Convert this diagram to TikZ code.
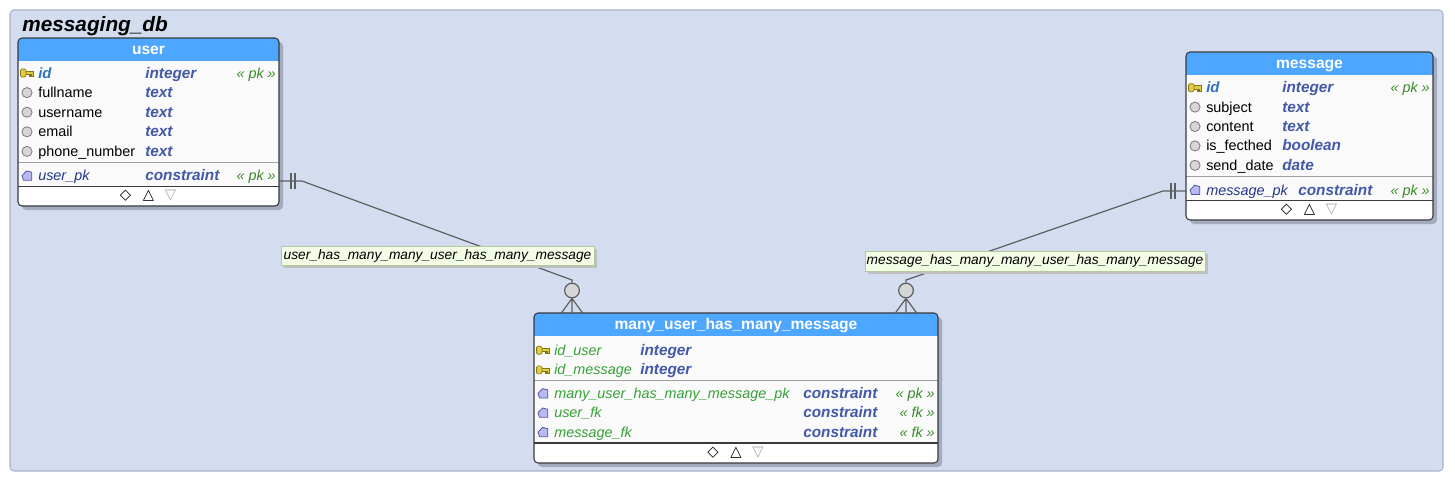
\documentclass[tikz,border=0pt]{standalone}
\usepackage{fontspec}
\setmainfont{Liberation Sans}
\newfontfamily\symfont{DejaVu Sans}
\usetikzlibrary{positioning,fit,shadows}

\definecolor{dbback}{HTML}{D4DCF0}
\definecolor{dbframe}{HTML}{A7B3CD}
\definecolor{tabhead}{HTML}{4DA6FF}
\definecolor{tabbody}{HTML}{FAFAFA}
\definecolor{tabshade}{HTML}{A3ABBE}
\definecolor{tabedge}{HTML}{3A3A3A}
\definecolor{sepgray}{HTML}{A0A0A0}
\definecolor{typeblue}{HTML}{4258A8}
\definecolor{idblue}{HTML}{2F72BE}
\definecolor{consblue}{HTML}{22368A}
\definecolor{markgreen}{HTML}{3A8A2A}
\definecolor{linkgreen}{HTML}{35A035}
\definecolor{keyfill}{HTML}{E0CE42}
\definecolor{keyedge}{HTML}{857418}
\definecolor{ballfill}{HTML}{D6D6D6}
\definecolor{balledge}{HTML}{7A7A7A}
\definecolor{consfill}{HTML}{B9B9F2}
\definecolor{consedge}{HTML}{5555A5}
\definecolor{relgray}{HTML}{5E5E5E}
\definecolor{labelfill}{HTML}{F3FDE6}
\definecolor{labeledge}{HTML}{B6C99E}

\tikzset{
  rowtext/.style={inner sep=0pt, anchor=base west, font=\fontsize{10.8}{13}\selectfont},
  idtext/.style={rowtext, font=\fontsize{11.2}{13}\selectfont\bfseries\itshape, text=idblue},
  typetext/.style={rowtext, font=\fontsize{11.5}{13}\selectfont\bfseries\itshape, text=typeblue},
  constext/.style={rowtext, font=\fontsize{10.8}{13}\selectfont\itshape, text=consblue},
  linktext/.style={rowtext, font=\fontsize{10.8}{13}\selectfont\itshape, text=linkgreen},
  marktext/.style={inner sep=0pt, anchor=base east, font=\fontsize{10.8}{13}\selectfont\itshape, text=markgreen},
  headtext/.style={inner sep=0pt, anchor=base, text=white, font=\fontsize{11.7}{13}\selectfont\bfseries},
  foottext/.style={inner sep=0pt, anchor=base, font=\symfont\fontsize{11}{12}\selectfont},
  tabframe/.style={draw=tabedge, line width=0.8pt, rounded corners=3pt, inner sep=0pt},
  relline/.style={draw=relgray, line width=0.9pt},
  crowball/.style={circle, draw=relgray, fill=ballfill, line width=0.9pt, minimum size=11pt, inner sep=0pt},
  rellabel/.style={draw=labeledge, fill=labelfill, inner sep=0pt, font=\fontsize{10.3}{12}\selectfont\itshape,
    drop shadow={shadow xshift=2pt, shadow yshift=-2pt, fill=black!25, opacity=1}},
  pkkey/.pic={
    \filldraw[fill=keyfill, draw=keyedge, line width=0.5pt] (-1.5,-2) -- (6,-2) -- (6,3.5) -- (4.5,3.5) -- (4.5,1.2) -- (3.5,1.2) -- (3.5,3.5) -- (2,3.5) -- (2,1.2) -- (-1.5,1.2) -- cycle;
    \filldraw[fill=keyfill, draw=keyedge, line width=0.5pt, rounded corners=1pt] (-6.5,-4) rectangle (-1,4);
  },
  colball/.pic={\filldraw[fill=ballfill, draw=balledge, line width=0.6pt] (0,0) circle (3.8pt);},
  consicon/.pic={\filldraw[fill=consfill, draw=consedge, line width=0.6pt, line join=round] (-5,0) -- (-0.5,-4.8) -- (4.8,-3.5) -- (4.8,4.5) -- (-3.5,4.5) -- cycle;}
}

\begin{document}
\begin{tikzpicture}[x=0.75pt,y=-0.75pt]
\fill[white] (0,0) rectangle (1455,483);
\useasboundingbox (0,0) rectangle (1455,483);
\draw[draw=dbframe, fill=dbback, line width=0.8pt, rounded corners=3pt] (10,10) rectangle (1443,471);
\node[anchor=base west, inner sep=0pt, font=\fontsize{15.6}{18}\selectfont\bfseries\itshape] (dbname) at (22,31) {messaging\_db};

% user
\fill[tabshade, rounded corners=3pt] (22,42) rectangle (283,210);
\fill[tabhead, rounded corners=3pt] (18,38) rectangle (279,206);
\fill[tabbody] (18,61) rectangle (279,190);
\fill[white, rounded corners=3pt] (18,187) rectangle (279,206);
\draw[sepgray] (18,162.7) -- (279,162.7);
\draw[tabedge, line width=0.8pt] (18,186.7) -- (279,186.7);
\node[tabframe, fit={(18,38) (279,206)}] (user) {};
\node[headtext] (userhead) at (148.5,54) {user};
\pic at (27,73) {pkkey};
\node[idtext] (user-0) at (38,78) {id};
\node[typetext] (usertype-0) at (145,78) {integer};
\node[marktext] (usermark-0) at (276,78) {« pk »};
\foreach \n/\t [count=\i] in {fullname/text, username/text, email/text, phone\_number/text} {
  \pic at (27,{73+19.6*\i}) {colball};
  \node[rowtext] (user-\i) at (38,{78+19.6*\i}) {\n};
  \node[typetext] (usertype-\i) at (145,{78+19.6*\i}) {\t};
}
\pic at (27,175.7) {consicon};
\node[constext] (userpk) at (38,180.7) {user\_pk};
\node[typetext] (userpktype) at (145,180.7) {constraint};
\node[marktext] (userpkmark) at (276,180.7) {« pk »};
\node[foottext] (userfoot-1) at (125.5,199.5) {◇};
\node[foottext] (userfoot-2) at (148.5,199.5) {△};
\node[foottext, text=gray!70] (userfoot-3) at (170.5,199.5) {▽};

% message
\fill[tabshade, rounded corners=3pt] (1190,56) rectangle (1437,224);
\fill[tabhead, rounded corners=3pt] (1186,52) rectangle (1433,220);
\fill[tabbody] (1186,75) rectangle (1433,204);
\fill[white, rounded corners=3pt] (1186,201) rectangle (1433,220);
\draw[sepgray] (1186,176.7) -- (1433,176.7);
\draw[tabedge, line width=0.8pt] (1186,200.3) -- (1433,200.3);
\node[tabframe, fit={(1186,52) (1433,220)}] (message) {};
\node[headtext] (messagehead) at (1309.5,68) {message};
\pic at (1195,87.7) {pkkey};
\node[idtext] (message-0) at (1206,92.7) {id};
\node[typetext] (messagetype-0) at (1282,92.7) {integer};
\node[marktext] (messagemark-0) at (1430,92.7) {« pk »};
\foreach \n/\t [count=\i] in {subject/text, content/text, is\_fecthed/boolean, send\_date/date} {
  \pic at (1195,{87.7+19.4*\i}) {colball};
  \node[rowtext] (message-\i) at (1206,{92.7+19.4*\i}) {\n};
  \node[typetext] (messagetype-\i) at (1282,{92.7+19.4*\i}) {\t};
}
\pic at (1195,190) {consicon};
\node[constext] (messagepk) at (1206,195) {message\_pk};
\node[typetext] (messagepktype) at (1298,195) {constraint};
\node[marktext] (messagepkmark) at (1430,195) {« pk »};
\node[foottext] (messagefoot-1) at (1286.5,213.5) {◇};
\node[foottext] (messagefoot-2) at (1309.5,213.5) {△};
\node[foottext, text=gray!70] (messagefoot-3) at (1331.5,213.5) {▽};

% many_user_has_many_message
\fill[tabshade, rounded corners=3pt] (538,317) rectangle (942,467);
\fill[tabhead, rounded corners=3pt] (534,313) rectangle (938,463);
\fill[tabbody] (534,336) rectangle (938,447);
\fill[white, rounded corners=3pt] (534,444) rectangle (938,463);
\draw[sepgray] (534,380.5) -- (938,380.5);
\draw[tabedge, line width=0.8pt] (534,443) -- (938,443);
\node[tabframe, fit={(534,313) (938,463)}] (link) {};
\node[headtext] (linkhead) at (736,329.5) {many\_user\_has\_many\_message};
\foreach \n [count=\i] in {id\_user, id\_message} {
  \pic at (543,{330.5+19.7*\i}) {pkkey};
  \node[linktext] (link-\i) at (554,{335.5+19.7*\i}) {\n};
  \node[typetext] (linktype-\i) at (640,{335.5+19.7*\i}) {integer};
}
\foreach \n/\m [count=\i] in {many\_user\_has\_many\_message\_pk/pk, user\_fk/fk, message\_fk/fk} {
  \pic at (543,{374+19.4*\i}) {consicon};
  \node[linktext] (linkcons-\i) at (554,{379+19.4*\i}) {\n};
  \node[typetext] (linkconstype-\i) at (803,{379+19.4*\i}) {constraint};
  \node[marktext] (linkconsmark-\i) at (935,{379+19.4*\i}) {« \m\ »};
}
\node[foottext] (linkfoot-1) at (713,456.5) {◇};
\node[foottext] (linkfoot-2) at (736,456.5) {△};
\node[foottext, text=gray!70] (linkfoot-3) at (758,456.5) {▽};

% relations
\coordinate (userport) at (279,181);
\coordinate (userbend) at (302,181);
\coordinate (userdrop) at (572,280);
\node[crowball] (userball) at (572,290.5) {};
\draw[relline] (userport) -- (userbend) -- (userdrop) -- (userball.north);
\draw[relline] (291,173) -- (291,189) (295,173) -- (295,189);
\draw[relline] (userball.south) -- ++(-11,15) (userball.south) -- ++(0,15) (userball.south) -- ++(11,15);

\coordinate (messageport) at (1186,191);
\coordinate (messagebend) at (1163,191);
\coordinate (messagedrop) at (906,280);
\node[crowball] (messageball) at (906,290.5) {};
\draw[relline] (messageport) -- (messagebend) -- (messagedrop) -- (messageball.north);
\draw[relline] (1171,183) -- (1171,199) (1175,183) -- (1175,199);
\draw[relline] (messageball.south) -- ++(-11,15) (messageball.south) -- ++(0,15) (messageball.south) -- ++(11,15);

\node[rellabel, minimum width=234.75pt, minimum height=14.25pt] (userlabel) at (437.5,255.5) {user\_has\_many\_many\_user\_has\_many\_message};
\node[rellabel, minimum width=255pt, minimum height=15pt] (messagelabel) at (1035,261) {message\_has\_many\_many\_user\_has\_many\_message};
\end{tikzpicture}
\end{document}
